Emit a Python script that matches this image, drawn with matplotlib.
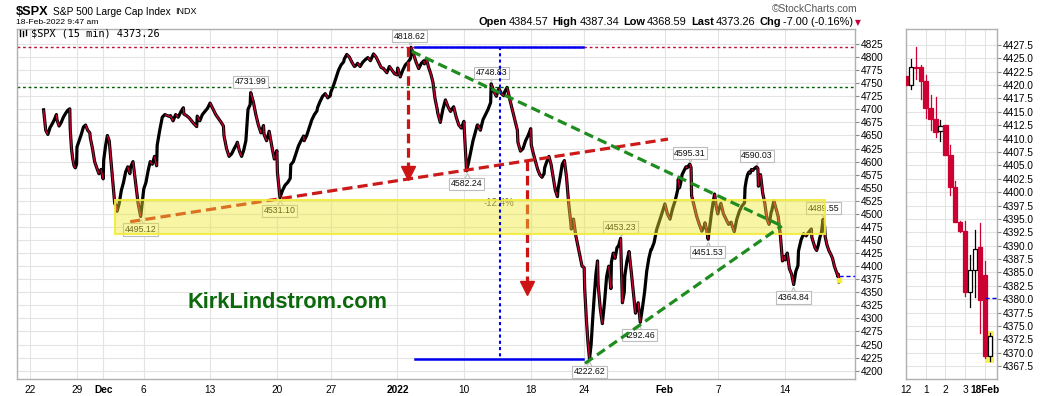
import matplotlib
matplotlib.use("Agg")
import matplotlib.pyplot as plt
import numpy as np
import pandas as pd
from matplotlib.collections import LineCollection
from matplotlib.patches import Rectangle
from matplotlib.lines import Line2D
from matplotlib import transforms

plt.rcParams['font.family'] = ['Liberation Sans', 'DejaVu Sans']

# ---------------------------------------------------------------- data
holidays = ["2021-11-25", "2021-12-24", "2022-01-17"]
half_days = ["2021-11-26"]
partial_days = {"2022-02-18": 2 / 26}

nov_dates = ["2021-11-23", "2021-11-24", "2021-11-26", "2021-11-29", "2021-11-30"]
nov_prices = [
    [4699, 4660, 4652, 4665, 4672, 4680, 4690],
    [4680, 4668, 4675, 4685, 4692, 4698, 4701],
    [4664, 4625, 4605, 4592, 4588, 4595],
    [4628, 4640, 4652, 4666, 4670, 4660, 4655],
    [4645, 4625, 4600, 4588, 4577, 4585, 4567],
]

dec_dates = ["2021-12-01", "2021-12-02", "2021-12-03", "2021-12-06", "2021-12-07",
             "2021-12-08", "2021-12-09", "2021-12-10", "2021-12-13", "2021-12-14",
             "2021-12-15", "2021-12-16", "2021-12-17", "2021-12-20", "2021-12-21",
             "2021-12-22", "2021-12-23", "2021-12-27", "2021-12-28", "2021-12-29",
             "2021-12-30", "2021-12-31"]
dec_prices = [
    [4603, 4630, 4650, 4640, 4600, 4560, 4520, 4513],
    [4505, 4520, 4545, 4560, 4580, 4590, 4577],
    [4589, 4600, 4560, 4520, 4495, 4538],
    [4548, 4560, 4582, 4600, 4595, 4610, 4592],
    [4631, 4660, 4685, 4690, 4688, 4686],
    [4688, 4678, 4690, 4685, 4695, 4703],
    [4691, 4688, 4684, 4678, 4672, 4667],
    [4687, 4678, 4690, 4696, 4702, 4712],
    [4710, 4700, 4690, 4683, 4676, 4668],
    [4650, 4625, 4610, 4615, 4625, 4634],
    [4637, 4620, 4610, 4622, 4640, 4700, 4709],
    [4732, 4715, 4690, 4670, 4655, 4669],
    [4652, 4640, 4658, 4630, 4605, 4621],
    [4580, 4531, 4545, 4555, 4560, 4568],
    [4594, 4600, 4615, 4630, 4640, 4649],
    [4640, 4650, 4665, 4680, 4690, 4697],
    [4703, 4715, 4725, 4730, 4722, 4726],
    [4733, 4745, 4760, 4775, 4785, 4791],
    [4796, 4805, 4800, 4790, 4782, 4786],
    [4788, 4782, 4790, 4795, 4799, 4793],
    [4795, 4806, 4800, 4790, 4780, 4778],
    [4776, 4770, 4782, 4775, 4768, 4766],
]

jan_dates = ["2022-01-03", "2022-01-04", "2022-01-05", "2022-01-06", "2022-01-07",
             "2022-01-10", "2022-01-11", "2022-01-12", "2022-01-13", "2022-01-14",
             "2022-01-18", "2022-01-19", "2022-01-20", "2022-01-21", "2022-01-24",
             "2022-01-25", "2022-01-26", "2022-01-27", "2022-01-28", "2022-01-31"]
jan_prices = [
    [4779, 4762, 4775, 4785, 4790, 4797],
    [4818.6, 4805, 4790, 4778, 4788, 4793],
    [4787, 4795, 4780, 4768, 4752, 4720, 4700],
    [4693, 4675, 4700, 4718, 4705, 4696],
    [4698, 4705, 4685, 4670, 4664, 4677],
    [4655, 4582.3, 4600, 4620, 4640, 4655, 4670],
    [4670, 4660, 4680, 4690, 4700, 4713],
    [4748.8, 4735, 4725, 4740, 4730, 4726],
    [4733, 4742, 4720, 4700, 4680, 4660],
    [4637, 4620, 4625, 4640, 4650, 4663],
    [4632, 4615, 4600, 4585, 4575, 4570, 4577],
    [4588, 4600, 4610, 4595, 4570, 4545, 4533],
    [4547, 4570, 4595, 4602, 4570, 4520, 4483],
    [4471, 4490, 4460, 4440, 4420, 4400, 4397],
    [4356, 4300, 4255, 4222.6, 4250, 4300, 4345, 4385, 4410],
    [4366, 4320, 4290, 4330, 4380, 4400, 4357],
    [4408, 4425, 4415, 4435, 4440, 4453.2, 4330, 4350],
    [4381, 4410, 4428, 4390, 4350, 4310, 4326],
    [4330, 4292.5, 4320, 4350, 4390, 4415, 4432],
    [4432, 4445, 4470, 4485, 4500, 4516],
]

feb_dates = ["2022-02-01", "2022-02-02", "2022-02-03", "2022-02-04", "2022-02-07",
             "2022-02-08", "2022-02-09", "2022-02-10", "2022-02-11", "2022-02-14",
             "2022-02-15", "2022-02-16", "2022-02-17", "2022-02-18"]
feb_prices = [
    [4519, 4500, 4490, 4510, 4525, 4546],
    [4566, 4550, 4560, 4575, 4580, 4585, 4590, 4588, 4592, 4595.3, 4589],
    [4535, 4515, 4495, 4480, 4467, 4477],
    [4483, 4470, 4451.5, 4475, 4500, 4520, 4538, 4515, 4500],
    [4505, 4520, 4500, 4490, 4480, 4484],
    [4480, 4466, 4490, 4505, 4515, 4521],
    [4550, 4565, 4575, 4580, 4578, 4585, 4583, 4586, 4588, 4590.0, 4587],
    [4553, 4575, 4540, 4520, 4490, 4480, 4504],
    [4506, 4525, 4510, 4495, 4460, 4410, 4419],
    [4412, 4425, 4395, 4385, 4364.8, 4390, 4401],
    [4429, 4450, 4462, 4458, 4465, 4471],
    [4455, 4445, 4435, 4430, 4440, 4455, 4465, 4489.5, 4475],
    [4456, 4440, 4430, 4423, 4415, 4400, 4390, 4380],
    [4384.6, 4369.4, 4373.3],
]

# 15-minute candles: Feb 17 12:00 ... 15:45, Feb 18 9:30, 9:45
candle_open = [4421.7, 4420.0, 4423.3, 4423.3, 4420.8, 4415.7, 4413.7, 4411.4, 4412.6,
               4407.0, 4401.0, 4394.4, 4392.8, 4381.4, 4385.5, 4389.7, 4384.5, 4369.4]
candle_high = [4421.7, 4424.9, 4427.1, 4423.8, 4421.9, 4418.2, 4417.7, 4413.5, 4412.6,
               4408.7, 4402.0, 4394.7, 4394.7, 4388.3, 4393.0, 4394.2, 4387.2, 4373.7]
candle_low = [4419.9, 4419.3, 4421.1, 4417.4, 4413.8, 4411.5, 4410.2, 4409.5, 4406.9,
              4399.5, 4394.4, 4392.5, 4380.7, 4378.5, 4380.4, 4373.7, 4369.1, 4368.4]
candle_close = [4419.9, 4423.3, 4423.1, 4420.7, 4415.7, 4413.6, 4411.3, 4412.3, 4406.9,
                4400.9, 4394.4, 4392.7, 4381.4, 4385.5, 4389.4, 4379.9, 4369.4, 4373.2]
candle_tick_idx = [0, 4, 8, 12, 16]
candle_tick_text = ["12", "1", "2", "3", "18Feb"]

tick_dates = ["2021-11-22", "2021-11-29", "2021-12-01", "2021-12-06", "2021-12-13",
              "2021-12-20", "2021-12-27", "2022-01-03", "2022-01-10", "2022-01-18",
              "2022-01-24", "2022-02-01", "2022-02-07", "2022-02-14"]
tick_texts = ["22", "29", "Dec", "6", "13", "20", "27", "2022", "10", "18", "24", "Feb", "7", "14"]
bold_ticks = ["Dec", "2022", "Feb"]

main_yticks = list(range(4200, 4826, 25))
intraday_yticks = [4367.5 + 2.5 * k for k in range(25)]

peak_values = [4818.62, 4731.99, 4748.83, 4595.31, 4590.03, 4582.24, 4531.10,
               4495.12, 4453.23, 4451.53, 4489.55, 4364.84, 4292.46, 4222.62]
peak_dates = ["2022-01-04", "2021-12-16", "2022-01-12", "2022-02-02", "2022-02-09",
              "2022-01-10", "2021-12-20", "2021-12-03", "2022-01-26", "2022-02-04",
              "2022-02-16", "2022-02-14", "2022-01-28", "2022-01-24"]
peak_fracs = [-0.06, 0.02, 0.03, 0.9, 0.92, 0.19, 0.21, 0.79, 0.71, 0.23, 0.88, 0.63, 0.1, 0.36]
peak_is_high = [True, True, True, True, True, False, False, False, True, False, True,
                False, False, False]

quote_open, quote_high, quote_low, quote_last = 4384.57, 4387.34, 4368.59, 4373.26
quote_chg, quote_pct = -7.00, -0.16
prev_close = 4380.26
swing_high, swing_low, neckline_level = 4818.62, 4222.62, 4743.0
drop_pct = -12.4

# ---------------------------------------------------------------- layout
W, H, DPI = 1050, 396, 100
RED = '#cc0033'
fig = plt.figure(figsize=(W / DPI, H / DPI), dpi=DPI)
fig.patch.set_facecolor('white')

def fx(px):
    return px / W

def fy(py):
    return 1 - py / H

ax = fig.add_axes([fx(17), fy(379), 838 / W, 350 / H])
ax2 = fig.add_axes([fx(905.7), fy(379), 91 / W, 350 / H])

# trading-day positions
days = [d.strftime("%Y-%m-%d") for d in pd.bdate_range("2021-11-22", "2022-02-18")]
days = [d for d in days if d not in holidays]
day_start, day_len = {}, {}
pos = 0.0
for d in days:
    L = 0.5 if d in half_days else partial_days.get(d, 1.0)
    day_start[d] = pos
    day_len[d] = L
    pos += 0.5 if d in half_days else 1.0

def X(date, frac=0.0):
    return day_start[date] + frac

# ---------------------------------------------------------------- price path
all_dates = nov_dates + dec_dates + jan_dates + feb_dates
all_prices = nov_prices + dec_prices + jan_prices + feb_prices
xs, ys = [], []
for date, pts in zip(all_dates, all_prices):
    n = len(pts)
    L = day_len[date]
    for k, p in enumerate(pts):
        xs.append(day_start[date] + L * (0.02 + 0.96 * k / (n - 1)))
        ys.append(p)
xs = np.array(xs)
ys = np.array(ys)
ax.plot(xs, ys, color='black', lw=2.3, zorder=2, solid_joinstyle='round')
pts = np.column_stack([xs, ys])
segs = np.stack([pts[:-1], pts[1:]], axis=1)
down = [i for i in range(len(ys) - 1) if ys[i + 1] < ys[i]]
lc = LineCollection(segs[down], colors=RED, linewidths=1.0, zorder=2.1)
ax.add_collection(lc)

# axes styling
ax.set_xlim(-0.97, 61.75)
ax.set_ylim(4184.1, 4853.7)
ax.set_yticks(main_yticks)
ax.set_yticklabels([str(v) for v in main_yticks])
ax.yaxis.tick_right()
ax.tick_params(axis='y', which='both', right=True, left=False, length=3, width=0.8,
               color='#888888', labelsize=7.3, pad=1.5)
tpos = [X(d) for d in tick_dates]
ax.set_xticks(tpos)
ax.set_xticklabels(tick_texts)
for lab in ax.get_xticklabels():
    if lab.get_text() in bold_ticks:
        lab.set_fontweight('bold')
ax.tick_params(axis='x', length=0, labelsize=7.3, pad=4)
ax.grid(True, color='#e3e3e3', linewidth=0.8)
ax.set_axisbelow(True)
for sp in ax.spines.values():
    sp.set_color('#b0b0b0')
    sp.set_linewidth(1.0)

# ---------------------------------------------------------------- annotations
xmin, xmax = ax.get_xlim()
ax.plot([xmin, xmax], [swing_high, swing_high], color='#c0103a', lw=1.0,
        linestyle=(0, (2, 2)), zorder=2.5)
ax.plot([xmin, xmax], [neckline_level, neckline_level], color='#006000', lw=1.0,
        linestyle=(0, (2, 2)), zorder=2.5)

rt_x0, rt_y0 = X("2021-12-03", 0.0), 4485
rt_x1, rt_y1 = X("2022-02-01", 0.25), 4643
ax.plot([rt_x0, rt_x1], [rt_y0, rt_y1], color='#cc1a1a', lw=2.3,
        linestyle=(0, (3.2, 1.6)), zorder=3, solid_capstyle='butt')

def red_arrow(x, y_top, y_tip):
    ms = 9.5
    ax.plot([x, x], [y_top, y_tip + 8], color='#cc1414', lw=2.3,
            linestyle=(0, (3.0, 1.5)), zorder=3)
    tr = transforms.offset_copy(ax.transData, fig=fig, x=0, y=ms / 2, units='points')
    ax.plot([x], [y_tip], marker='v', ms=ms, color='#cc1414', mec='#cc1414',
            transform=tr, zorder=3)

red_arrow(X("2022-01-03", 0.77), 4820, 4565)
a2x = X("2022-01-14", 0.68)
a2y = rt_y0 + (a2x - rt_x0) * (rt_y1 - rt_y0) / (rt_x1 - rt_x0)
red_arrow(a2x, a2y, 4345)

bx0, bx1 = X("2022-01-04", 0.3), X("2022-01-21", 0.9)
bxv = X("2022-01-12", 0.68)
ax.plot([bx0, bx1], [swing_high, swing_high], color='#0000ee', lw=1.8, zorder=5)
ax.plot([bx0, bx1], [swing_low, swing_low], color='#0000ee', lw=1.8, zorder=5)
ax.plot([bxv, bxv], [swing_high, swing_low], color='#0000ee', lw=1.5,
        linestyle=(0, (1.5, 1.5)), zorder=5)
ax.text(X("2022-01-12", 0.6), 4521, f"{drop_pct:.1f}%", ha='center', va='center',
        fontsize=7, color='#555555', zorder=3)

g_end = (X("2022-02-11", 0.77), 4477)
g_up0 = (X("2022-01-04", 0.07), 4811)
g_lo0 = (X("2022-01-24", 0.04), 4214)
for p0 in (g_up0, g_lo0):
    ax.plot([p0[0], g_end[0]], [p0[1], g_end[1]], color='#1e8c1e', lw=2.3,
            linestyle=(0, (3.0, 1.6)), zorder=5)

band = Rectangle((X("2021-12-01", 0.86), 4461.5), X("2022-02-17") - X("2021-12-01", 0.86),
                 4526.6 - 4461.5, facecolor=(240 / 255, 232 / 255, 48 / 255, 0.43),
                 edgecolor=(242 / 255, 236 / 255, 60 / 255, 0.9), lw=1.5, zorder=4)
ax.add_patch(band)

ax.plot([xs[-1], xmax], [prev_close, prev_close], color='#0000ee', lw=1.0,
        linestyle=(0, (3, 2)), zorder=3)
ax.plot([xs[-1]], [quote_last], marker='s', ms=3, color='#f5ee30', mec='#f5ee30', zorder=2.6)

for v, d, f, hi in zip(peak_values, peak_dates, peak_fracs, peak_is_high):
    x = X(d, f)
    off = 11 if hi else -13
    ax.annotate(f"{v:.2f}", xy=(x, v), xytext=(0, off), textcoords='offset pixels',
                ha='center', va='center', fontsize=6.3, color='#111111', zorder=3.6,
                bbox=dict(boxstyle='square,pad=0.18', fc='white', ec='#bdbdbd', lw=0.8))
    tr = transforms.offset_copy(ax.transData, fig=fig, x=0,
                                y=(5.5 if hi else -5.5) * 0.72, units='points')
    ax.plot([x], [v], marker='v' if hi else '^', ms=5, mfc='white', mec='#bdbdbd',
            mew=0.8, transform=tr, zorder=3.55)

ax.text(X("2021-12-20", 0.81), 4329.5, "KirkLindstrom.com", ha='center', va='center',
        fontsize=15.7, fontweight='bold', color='#0b680b', zorder=6)

# ---------------------------------------------------------------- intraday panel
for i, (o, h, l, c) in enumerate(zip(candle_open, candle_high, candle_low, candle_close)):
    if i == len(candle_open) - 1:
        ax2.add_patch(Rectangle((i - 0.77, 4368.1), 1.54, 4374.0 - 4368.1,
                                facecolor='#f5f060', edgecolor='none', zorder=1.5))
    up = c > o
    col = 'black' if up else RED
    ax2.plot([i, i], [l, h], color=col, lw=0.9, zorder=2)
    lo, hi_ = min(o, c), max(o, c)
    hgt = max(hi_ - lo, 0.15)
    ax2.add_patch(Rectangle((i - 0.45, lo), 0.9, hgt,
                            facecolor='white' if up else RED,
                            edgecolor='black' if up else RED, lw=0.9, zorder=3))
ax2.plot([16, 18.4], [prev_close, prev_close], color='#0000ee', lw=1.0,
         linestyle=(0, (3, 2)), zorder=4)
ax2.set_xlim(-0.05, 18.4)
ax2.set_ylim(4365.13, 4430.43)
ax2.set_yticks(intraday_yticks)
ax2.set_yticklabels([f"{v:.1f}" for v in intraday_yticks])
ax2.yaxis.tick_right()
ax2.tick_params(axis='y', right=True, left=False, length=3, width=0.8, color='#888888',
                labelsize=7.3, pad=1.5)
ax2.set_xticks(candle_tick_idx)
ax2.set_xticklabels(candle_tick_text)
for lab in ax2.get_xticklabels():
    if lab.get_text() == "18Feb":
        lab.set_fontweight('bold')
ax2.tick_params(axis='x', length=0, labelsize=7.3, pad=4)
ax2.grid(True, color='#e3e3e3', linewidth=0.8)
ax2.set_axisbelow(True)
for sp in ax2.spines.values():
    sp.set_color('#b0b0b0')
    sp.set_linewidth(1.0)

# ---------------------------------------------------------------- header
renderer = fig.canvas.get_renderer()

def text_runs(x_px, y_px, runs, align='left'):
    objs, widths = [], []
    for s, kw, gap in runs:
        t = fig.text(0, 0, s, va='center', **kw)
        widths.append(t.get_window_extent(renderer).width + gap)
        objs.append(t)
    x = x_px if align == 'left' else x_px - sum(widths)
    for t, w in zip(objs, widths):
        t.set_position((fx(x), fy(y_px)))
        x += w

text_runs(16, 12, [("$SPX", dict(fontsize=9.2, fontweight='bold'), 4),
                   ("S&P 500 Large Cap Index", dict(fontsize=7.3), 5),
                   ("INDX", dict(fontsize=6.5), 0)])
fig.text(fx(16), fy(23), "18-Feb-2022 9:47 am", fontsize=6.1, va='center')
fig.text(fx(858), fy(9), "\u00a9StockCharts.com", fontsize=7.4, color='#555555',
         ha='right', va='center')
B = dict(fontsize=7.9, fontweight='bold')
R = dict(fontsize=7.9)
text_runs(853, 22, [("Open", B, 2), (f"{quote_open:.2f}", R, 4),
                    ("High", B, 2), (f"{quote_high:.2f}", R, 4),
                    ("Low", B, 2), (f"{quote_low:.2f}", R, 4),
                    ("Last", B, 2), (f"{quote_last:.2f}", R, 4),
                    ("Chg", B, 2), (f"{quote_chg:.2f} ({quote_pct:.2f}%)", R, 0)],
          align='right')
fig.text(fx(855), fy(22.5), "\u25bc", fontsize=5.5, color='#c0003a', va='center',
         family=['DejaVu Sans'])

fig.text(fx(31), fy(33), f"$SPX (15 min) {quote_last:.2f}", fontsize=7.4,
         family=['DejaVu Sans Mono'], va='center')
for (x0, y0, y1) in [(19.5, 30, 36), (22.5, 31, 35.5), (25.5, 29.5, 35)]:
    fig.add_artist(Line2D([fx(x0), fx(x0)], [fy(y0), fy(y1)], color='black', lw=1.0,
                          transform=fig.transFigure))

fig.savefig("out.png", dpi=DPI, facecolor='white')
